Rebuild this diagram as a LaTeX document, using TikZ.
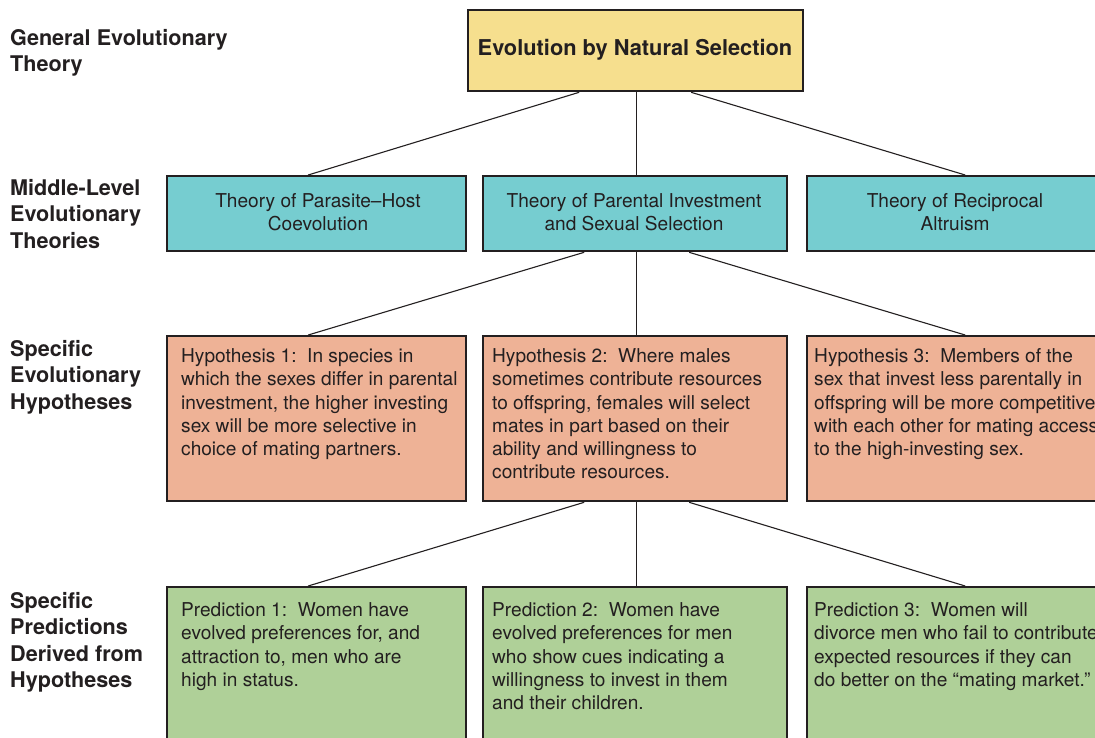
\documentclass[tikz,border=0pt]{standalone}
\usepackage{fontspec}
\setmainfont{TeX Gyre Heros}
\definecolor{ink}{RGB}{35,31,32}
\definecolor{yel}{RGB}{246,223,142}
\definecolor{teal}{RGB}{118,205,208}
\definecolor{salmon}{RGB}{238,178,150}
\definecolor{grn}{RGB}{175,208,152}
\tikzset{
  box/.style={draw=ink, line width=2.3pt, rectangle, anchor=north west, inner sep=0pt},
  conn/.style={draw=ink, line width=1.1pt},
  body/.style={text=ink, inner sep=0pt, anchor=north west, align=left, font=\fontsize{19.1}{23.2}\selectfont},
  mid/.style={text=ink, inner sep=0pt, align=center, font=\fontsize{19.1}{23.2}\selectfont},
  side/.style={text=ink, inner sep=0pt, anchor=north west, align=left, font=\bfseries\fontsize{21.6}{26.5}\selectfont},
}
\begin{document}
\begin{tikzpicture}[x=1pt,y=-1pt]
\useasboundingbox (0,0) rectangle (1095,737);
\clip (0,0) rectangle (1095,737);
\fill[white] (0,0) rectangle (1095,737);

% side labels
\node[side] (l1) at (10,29) {General Evolutionary\\Theory};
\node[side] (l2) at (10,179) {Middle-Level\\Evolutionary\\Theories};
\node[side] (l3) at (10,340) {Specific\\Evolutionary\\Hypotheses};
\node[side] (l4) at (10,592) {Specific\\Predictions\\Derived from\\Hypotheses};

% top
\node[box, fill=yel, minimum width=335pt, minimum height=81pt] (top) at (467,9) {};
\node[text=ink, inner sep=0pt, font=\bfseries\fontsize{21.8}{25}\selectfont] (toptxt) at (635,50) {Evolution by Natural Selection};

% middle theories
\node[box, fill=teal, minimum width=299pt, minimum height=75pt] (m1) at (166,175) {};
\node[box, fill=teal, minimum width=304pt, minimum height=75pt] (m2) at (482,175) {};
\node[box, fill=teal, minimum width=310pt, minimum height=75pt] (m3) at (806,175) {};
\node[mid] (m1t) at (318,212) {Theory of Parasite–Host\\Coevolution};
\node[mid] (m2t) at (634,212) {Theory of Parental Investment\\and Sexual Selection};
\node[mid] (m3t) at (955,212) {Theory of Reciprocal\\Altruism};

% hypotheses
\node[box, fill=salmon, minimum width=299pt, minimum height=165pt] (h1) at (166,335) {};
\node[box, fill=salmon, minimum width=304pt, minimum height=165pt] (h2) at (482,335) {};
\node[box, fill=salmon, minimum width=310pt, minimum height=165pt] (h3) at (806,335) {};
\node[body] (h1t) at (181,348.5) {Hypothesis 1:\ \ In species in\\which the sexes differ in parental\\investment, the higher investing\\sex will be more selective in\\choice of mating partners.};
\node[body] (h2t) at (492,348.5) {Hypothesis 2:\ \ Where males\\sometimes contribute resources\\to offspring, females will select\\mates in part based on their\\ability and willingness to\\contribute resources.};
\node[body] (h3t) at (814,348.5) {Hypothesis 3:\ \ Members of the\\sex that invest less parentally in\\offspring will be more competitive\\with each other for mating access\\to the high-investing sex.};

% predictions
\node[box, fill=grn, minimum width=299pt, minimum height=170pt] (p1) at (166,586) {};
\node[box, fill=grn, minimum width=304pt, minimum height=170pt] (p2) at (482,586) {};
\node[box, fill=grn, minimum width=310pt, minimum height=170pt] (p3) at (806,586) {};
\node[body] (p1t) at (181,602.5) {Prediction 1:\ \ Women have\\evolved preferences for, and\\attraction to, men who are\\high in status.};
\node[body] (p2t) at (492,602.5) {Prediction 2:\ \ Women have\\evolved preferences for men\\who show cues indicating a\\willingness to invest in them\\and their children.};
\node[body] (p3t) at (814,602.5) {Prediction 3:\ \ Women will\\divorce men who fail to contribute\\expected resources if they can\\do better on the “mating market.”};

% connectors
\draw[conn] ([xshift=-56.5pt]top.south) -- ([xshift=-8.5pt]m1.north);
\draw[conn] ([xshift=0.5pt]top.south) -- ([xshift=1pt]m2.north);
\draw[conn] ([xshift=55.5pt]top.south) -- ([xshift=3pt]m3.north);

\draw[conn] ([xshift=-51pt]m2.south) -- ([xshift=-8.5pt]h1.north);
\draw[conn] ([xshift=1pt]m2.south) -- ([xshift=1pt]h2.north);
\draw[conn] ([xshift=54pt]m2.south) -- ([xshift=3pt]h3.north);

\draw[conn] ([xshift=-51pt]h2.south) -- ([xshift=-8.5pt]p1.north);
\draw[conn] ([xshift=1pt]h2.south) -- ([xshift=1pt]p2.north);
\draw[conn] ([xshift=54pt]h2.south) -- ([xshift=3pt]p3.north);
\end{tikzpicture}
\end{document}
